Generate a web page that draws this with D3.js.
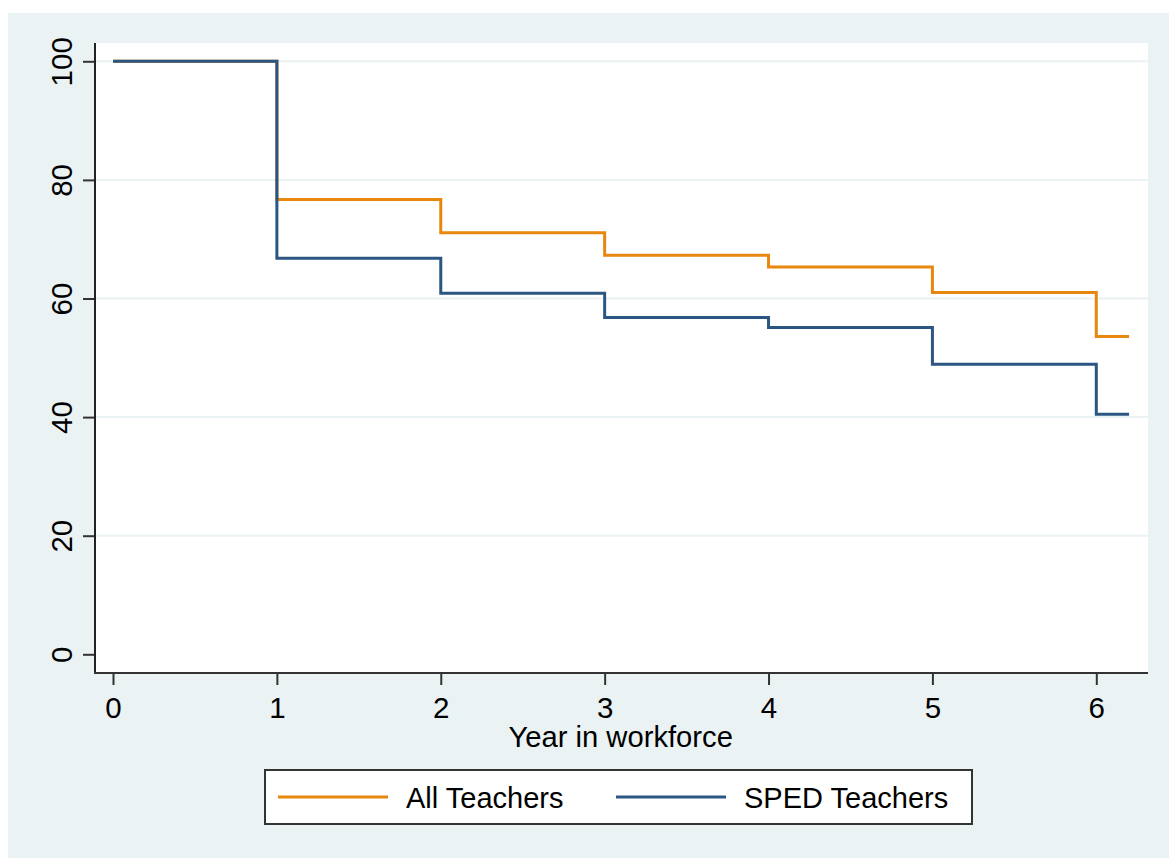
<!DOCTYPE html>
<html>
<head>
<meta charset="utf-8">
<script src="https://cdn.jsdelivr.net/npm/d3@7"></script>
<style>
  body { margin: 0; background: #fff; }
  svg text { font-family: "Liberation Sans", Arial, sans-serif; fill: #000; }
</style>
</head>
<body>
<script>
// Survival curves: share of teachers still in the workforce
const years = [0, 1, 2, 3, 4, 5, 6, 6.2];
const allTeachers = [100, 76.7, 71.1, 67.3, 65.3, 61.0, 53.6, 53.6];
const spedTeachers = [100, 66.8, 60.9, 56.8, 55.1, 48.9, 40.5, 40.5];
const xTicks = [0, 1, 2, 3, 4, 5, 6];
const yTicks = [0, 20, 40, 60, 80, 100];
const seriesNames = ["All Teachers", "SPED Teachers"];
const seriesColors = ["#E8870E", "#2B5681"];

const width = 1169, height = 858;
const plot = { left: 95, right: 1148, top: 43, bottom: 673 };

const svg = d3.select("body").append("svg")
    .attr("width", width)
    .attr("height", height);

// outer graph region
svg.append("rect")
    .attr("x", 8).attr("y", 13)
    .attr("width", width - 8).attr("height", height - 13)
    .attr("fill", "#EAF2F3");

// plot region
svg.append("rect")
    .attr("x", plot.left).attr("y", plot.top)
    .attr("width", plot.right - plot.left).attr("height", plot.bottom - plot.top)
    .attr("fill", "#fff");

const x = d3.scaleLinear().domain([0, 6]).range([113, 1096.3]);
const y = d3.scaleLinear().domain([0, 100]).range([654.3, 61.3]);

// gridlines
svg.append("g").selectAll("line")
    .data(yTicks.filter(d => d > 0))
    .join("line")
    .attr("x1", plot.left).attr("x2", plot.right)
    .attr("y1", d => y(d)).attr("y2", d => y(d))
    .attr("stroke", "#EAF2F3")
    .attr("stroke-width", 2);

// y axis
const yAxis = svg.append("g")
    .attr("transform", `translate(${plot.left},0)`)
    .call(d3.axisLeft(y).tickValues(yTicks).tickSize(12).tickPadding(0));
yAxis.select(".domain").remove();
yAxis.selectAll(".tick line").attr("stroke", "#333").attr("stroke-width", 2);
yAxis.selectAll(".tick text").remove();
yAxis.selectAll(".tick").append("text")
    .attr("transform", "translate(-23,0) rotate(-90)")
    .attr("text-anchor", "middle")
    .attr("font-size", 29.5)
    .text(d => d);

// x axis
const xAxis = svg.append("g")
    .attr("transform", `translate(0,${plot.bottom})`)
    .call(d3.axisBottom(x).tickValues(xTicks).tickFormat(d3.format("d")).tickSize(12).tickPadding(0));
xAxis.select(".domain").remove();
xAxis.selectAll(".tick line").attr("stroke", "#333").attr("stroke-width", 2);
xAxis.selectAll(".tick text")
    .attr("dy", null)
    .attr("y", 45)
    .attr("font-size", 29.5)
    .attr("fill", "#000")
    .attr("font-family", null);

// axis lines
svg.append("line")
    .attr("x1", plot.left).attr("x2", plot.left)
    .attr("y1", plot.top).attr("y2", plot.bottom + 1)
    .attr("stroke", "#222").attr("stroke-width", 2);
svg.append("line")
    .attr("x1", plot.left - 1).attr("x2", plot.right)
    .attr("y1", plot.bottom).attr("y2", plot.bottom)
    .attr("stroke", "#333").attr("stroke-width", 2);

// axis title
svg.append("text")
    .attr("x", (x(0) + x(6)) / 2 + 16)
    .attr("y", 747)
    .attr("text-anchor", "middle")
    .attr("font-size", 29.2)
    .text("Year in workforce");

// survival step lines
const line = d3.line()
    .x((d, i) => x(years[i]))
    .y(d => y(d))
    .curve(d3.curveStepAfter);

[allTeachers, spedTeachers].forEach((s, k) => {
    svg.append("path")
        .attr("d", line(s))
        .attr("fill", "none")
        .attr("stroke", seriesColors[k])
        .attr("stroke-width", 3);
});

// legend
const legend = svg.append("g");
legend.append("rect")
    .attr("x", 265).attr("y", 770)
    .attr("width", 707).attr("height", 54)
    .attr("fill", "#fff")
    .attr("stroke", "#333")
    .attr("stroke-width", 2);

const legendX = [278, 616];
seriesNames.forEach((name, k) => {
    legend.append("line")
        .attr("x1", legendX[k]).attr("x2", legendX[k] + 110)
        .attr("y1", 797).attr("y2", 797)
        .attr("stroke", seriesColors[k])
        .attr("stroke-width", 3);
    legend.append("text")
        .attr("x", legendX[k] + 128)
        .attr("y", 808)
        .attr("font-size", 29)
        .text(name);
});
</script>
</body>
</html>
